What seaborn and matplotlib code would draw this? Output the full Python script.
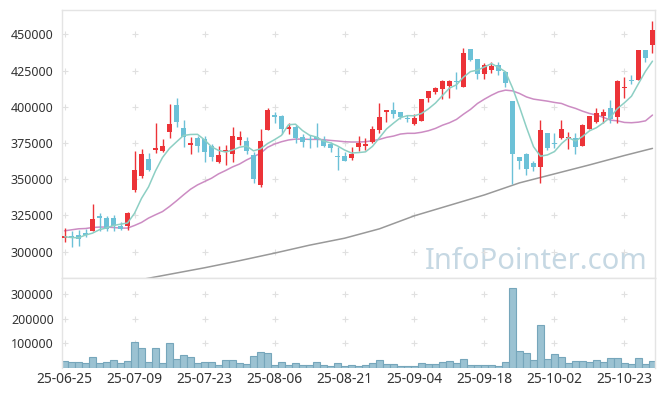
import numpy as np
import matplotlib
matplotlib.use("Agg")
import matplotlib.pyplot as plt
import seaborn as sns

# daily candles, index 0 = 25-06-25
opens = [309500, 310500, 311500, 312800, 314600, 324700, 323200, 323200, 318000, 317900,
         342700, 352500, 364000, 370000, 369700, 382800, 401000, 385200, 373800, 378400,
         377500, 373100, 362100, 369000, 367200, 377300, 376400, 366700, 346100, 383900,
         394300, 393600, 384800, 386000, 379300, 377700, 379300, 377000, 374300, 365800,
         366200, 364700, 372100, 373100, 376000, 383900, 396100, 397500, 396100, 391800,
         388100, 390300, 406200, 410300, 412600, 414200, 417800, 413700, 439700, 433300,
         422900, 425700, 428700, 424000, 404100, 365600, 367400, 361000, 358300, 381600,
         374800, 378200, 378500, 378200, 373100, 384800, 389600, 393600, 399500, 393100,
         412800, 418000, 418800, 439000, 442900]
highs = [316500, 314000, 315000, 316000, 333000, 326500, 324700, 325500, 320500, 327500,
         369500, 370900, 367900, 389000, 378000, 401800, 406400, 390800, 379300, 379800,
         379800, 374500, 373100, 373800, 385800, 383500, 378900, 368800, 384400, 399500,
         396600, 394300, 389000, 387400, 381500, 380500, 388500, 379800, 375900, 372000,
         369000, 372000, 379800, 378200, 386600, 402700, 397500, 403400, 396100, 394000,
         394700, 405300, 410800, 413800, 418800, 418200, 424000, 440800, 439700, 433300,
         430000, 431000, 431000, 424700, 404100, 365600, 368300, 362500, 390800, 381600,
         381600, 390800, 382400, 382000, 388200, 393600, 398900, 398200, 404600, 418300,
         420700, 421800, 439500, 439000, 459100]
lows = [306500, 303500, 304000, 310000, 314000, 314500, 314500, 314500, 314700, 314700,
        341000, 351000, 355900, 368300, 369000, 378200, 386200, 372400, 367400, 369000,
        362100, 362800, 361000, 359900, 362100, 373600, 367400, 347300, 344900, 383900,
        388800, 381000, 381200, 374800, 372000, 371300, 372000, 372500, 368600, 356400,
        362800, 363300, 369700, 370200, 374800, 382100, 389600, 392400, 391500, 389500,
        387400, 390300, 403400, 408500, 405300, 406400, 412100, 413700, 431500, 419500,
        419500, 423100, 421800, 413700, 346800, 356900, 352800, 355500, 347300, 370500,
        371400, 377500, 370700, 367400, 373100, 384800, 388500, 388500, 388500, 389000,
        406400, 415400, 418800, 431000, 437400]
closes = [311000, 310000, 309000, 311500, 322700, 323000, 316000, 317500, 316000, 326600,
          356400, 367400, 356400, 371300, 372900, 388000, 389600, 378900, 375200, 373100,
          369000, 365600, 366700, 369500, 379800, 378900, 369700, 350200, 376400, 397700,
          392700, 384600, 386400, 378400, 375900, 376800, 378000, 373100, 371800, 365200,
          362800, 367400, 374800, 374300, 384600, 393100, 397500, 394700, 393100, 391500,
          392200, 405300, 410800, 413100, 417600, 417600, 417000, 437400, 432100, 422500,
          428700, 428200, 424700, 416500, 367400, 362800, 356900, 358700, 383900, 371700,
          374300, 384400, 379000, 372400, 387400, 393600, 395400, 396100, 391300, 417600,
          413800, 417600, 439500, 434000, 452700]
volume = [28300, 24300, 24300, 20200, 44500, 20200, 24300, 32400, 20200, 28300,
          105300, 81000, 24300, 81000, 20200, 101200, 36400, 52600, 44500, 20200,
          24300, 24300, 12100, 32400, 32400, 20200, 16200, 48600, 64800, 60700,
          12100, 24300, 12100, 20200, 12100, 12100, 24300, 12100, 8100, 20200,
          6500, 12100, 6500, 12100, 20200, 32400, 16200, 16200, 8100, 8100,
          8100, 20200, 16200, 16200, 24300, 28300, 20200, 36400, 12100, 12100,
          12100, 12100, 8100, 24300, 327900, 68800, 60700, 32400, 174100, 36400,
          56700, 44500, 20200, 28300, 28300, 24300, 32400, 24300, 40500, 40500,
          20200, 16200, 40500, 16200, 28300]

# moving averages as drawn on the chart
ma5 = [310300, 309800, 309600, 311500, 312800, 315200, 316400, 318100, 319000, 319800,
       326500, 336800, 344700, 355800, 365000, 371300, 375800, 380200, 380900, 381000,
       377200, 372400, 369900, 368800, 370100, 372100, 372900, 369600, 371000, 374600,
       377300, 380300, 387600, 388000, 383600, 380400, 379100, 376400, 375100, 373000,
       370200, 368100, 368400, 368900, 372700, 378700, 384700, 388700, 392500, 393900,
       393800, 395400, 398600, 402600, 407800, 412900, 415200, 420500, 424300, 425300,
       427500, 429800, 427200, 424100, 413100, 399900, 385700, 372500, 365900, 366800,
       369100, 374600, 378700, 376400, 379500, 383400, 385600, 389000, 392800, 398800,
       402800, 407300, 416000, 424500, 431500]
ma20 = [314400, 315100, 315800, 316000, 316700, 317000, 317000, 316700, 316300, 316300,
        318100, 320200, 323200, 325500, 327700, 331200, 335100, 339200, 343100, 346100,
        348400, 350700, 353700, 356000, 358500, 360500, 363300, 365600, 367900, 372000,
        374300, 375900, 377100, 377700, 377700, 377500, 377500, 377300, 376800, 376400,
        375900, 375700, 375700, 375900, 376600, 377500, 378900, 379800, 381200, 381700,
        381700, 382400, 383500, 385100, 387300, 389000, 391300, 394900, 398200, 402300,
        405300, 408000, 410300, 411500, 411000, 409200, 406800, 405300, 404600, 403900,
        403000, 402300, 400400, 398900, 397000, 395400, 394300, 392700, 390800, 390300,
        389200, 389000, 389400, 390300, 394300]
ma60_idx = [10, 15, 20, 25, 30, 35, 40, 45, 50, 55, 60, 65, 70, 75, 80, 84]
ma60 = [279900, 284400, 288900, 293800, 299000, 304500, 309300, 315800, 324800, 332000,
        339200, 347500, 353700, 359900, 366400, 371300]

tick_idx = [0, 10, 20, 30, 40, 50, 60, 70, 80]
tick_labels = ["25-06-25", "25-07-09", "25-07-23", "25-08-06", "25-08-21",
               "25-09-04", "25-09-18", "25-10-02", "25-10-23"]
price_ticks = [300000, 325000, 350000, 375000, 400000, 425000, 450000]
vol_ticks = [100000, 200000, 300000]

UP = "#ec3338"
DOWN = "#6cc1d7"

sns.set_style("white")
plt.rcParams["font.family"] = ["Noto Sans", "DejaVu Sans"]

fig = plt.figure(figsize=(6.65, 3.96), dpi=100)
W, H = 665, 396
ax = fig.add_axes([62 / W, (H - 278) / H, 593 / W, 268 / H])
axv = fig.add_axes([62 / W, (H - 367.5) / H, 593 / W, 89.5 / H])

o = np.array(opens)
c = np.array(closes)
idx = np.arange(len(o))
colors = np.where(c >= o, UP, DOWN)

# watermark
ax.text(0.988, 0.035, "InfoPointer.com", transform=ax.transAxes, ha="right", va="baseline",
        fontsize=21, color="#c6d8e3", zorder=0)

# candles
ax.vlines(idx, lows, highs, colors=colors, linewidth=1.0, zorder=3)
body = np.maximum(np.abs(c - o), 900)
ax.bar(idx, body, bottom=np.minimum(o, c), width=0.72, color=colors, linewidth=0, zorder=4)

# moving averages
sns.lineplot(x=ma60_idx, y=ma60, ax=ax, color="#999999", linewidth=1.1, zorder=2)
sns.lineplot(x=idx, y=ma20, ax=ax, color="#cc8cc3", linewidth=1.1, zorder=2)
sns.lineplot(x=idx, y=ma5, ax=ax, color="#8dcfc4", linewidth=1.1, zorder=5)

ax.set_xlim(-0.36, 84.36)
ax.set_ylim(281850, 466800)
ax.set_yticks(price_ticks)
ax.set_yticklabels([str(v) for v in price_ticks])
ax.set_xticks(tick_idx)
ax.set_xticklabels([])

# volume
sns.barplot(x=idx, y=volume, ax=axv, color="#9bc2d2", saturation=1, width=1.0,
            edgecolor="#76a6bb", linewidth=0.8)
axv.set_xlim(-0.36, 84.36)
axv.set_ylim(0, 367000)
axv.set_yticks(vol_ticks)
axv.set_yticklabels([str(v) for v in vol_ticks])
axv.set_xticks(tick_idx)
axv.set_xticklabels(tick_labels)
axv.set_xlabel("")
axv.set_ylabel("")
ax.set_xlabel("")
ax.set_ylabel("")

for a, yt in ((ax, price_ticks), (axv, vol_ticks)):
    gx, gy = np.meshgrid(tick_idx, yt)
    a.scatter(gx.ravel(), gy.ravel(), marker="+", s=14, color="#e0e0e0", linewidths=0.8, zorder=0)
    for s in a.spines.values():
        s.set_color("#e4e4e4")
        s.set_linewidth(1.0)
    a.tick_params(axis="both", length=0, labelsize=9, colors="#333333")
    a.tick_params(axis="y", pad=6)
    a.tick_params(axis="x", pad=3, labelsize=10)
axv.spines["bottom"].set_visible(False)

fig.savefig("out.png", dpi=100)
